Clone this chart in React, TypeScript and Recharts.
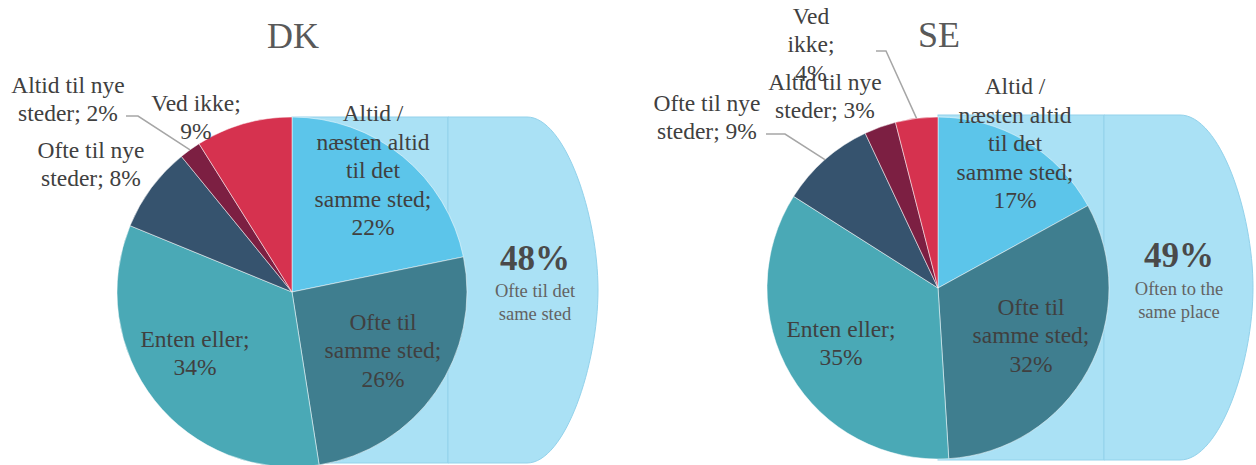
import { PieChart, Pie, Cell } from 'recharts';

// Answer categories, clockwise from 12 o'clock.
const CATEGORIES = [
  'Altid / næsten altid til det samme sted',
  'Ofte til samme sted',
  'Enten eller',
  'Ofte til nye steder',
  'Altid til nye steder',
  'Ved ikke',
];
const DK_VALUES = [22, 26, 34, 8, 2, 9];
const SE_VALUES = [17, 32, 35, 9, 3, 4];

// Label wrapping as in the picture, "|" is a line break, {v} the value.
const DK_WRAP = [
  'Altid /|næsten altid|til det|samme sted;|{v}%',
  'Ofte til|samme sted;|{v}%',
  'Enten eller;|{v}%',
  'Ofte til nye|steder; {v}%',
  'Altid til nye|steder; {v}%',
  'Ved ikke;|{v}%',
];
const SE_WRAP = [
  'Altid /|næsten altid|til det|samme sted;|{v}%',
  'Ofte til|samme sted;|{v}%',
  'Enten eller;|{v}%',
  'Ofte til nye|steder; {v}%',
  'Altid til nye|steder; {v}%',
  'Ved|ikke;|{v}%',
];
const DK_GROUP_TEXT = ['Ofte til det', 'same sted'];
const SE_GROUP_TEXT = ['Often to the', 'same place'];

const COLORS = ['#5CC5EA', '#3F7E8F', '#4AA9B6', '#36536E', '#7C1F42', '#D6324F'];
const FONT = '"Liberation Serif", "Times New Roman", serif';
const LINE_H = 28.5;

type LabelPos = { dx: number; dy: number; line?: [number, number, number, number] };

// block centre offsets from the pie centre; line = start x,y and elbow x,y
const DK_LAYOUT: LabelPos[] = [
  { dx: 81, dy: -122 },
  { dx: 91, dy: 58 },
  { dx: -97, dy: 61 },
  { dx: -201, dy: -128 },
  { dx: -224, dy: -193, line: [-166, -176, -154, -176] },
  { dx: -96, dy: -175 },
];
const SE_LAYOUT: LabelPos[] = [
  { dx: 77, dy: -145 },
  { dx: 93, dy: 47 },
  { dx: -97, dy: 55 },
  { dx: -231, dy: -171, line: [-172, -154, -153, -154] },
  { dx: -113, dy: -192 },
  { dx: -127, dy: -244, line: [-62, -237, -52, -237] },
];

function makeLabel(wraps: string[], layout: LabelPos[]) {
  return (props: any) => {
    const { cx, cy, midAngle, outerRadius, index, value } = props;
    const pos = layout[index];
    const lines = wraps[index].replace('{v}', String(value)).split('|');
    const bx = cx + pos.dx;
    const y0 = cy + pos.dy - ((lines.length - 1) * LINE_H) / 2;
    let leader = null;
    if (pos.line) {
      const rad = (-midAngle * Math.PI) / 180;
      const ex = cx + outerRadius * Math.cos(rad);
      const ey = cy + outerRadius * Math.sin(rad);
      const pts = `${cx + pos.line[0]},${cy + pos.line[1]} ${cx + pos.line[2]},${cy + pos.line[3]} ${ex},${ey}`;
      leader = <polyline points={pts} fill="none" stroke="#A6A6A6" strokeWidth={1.5} />;
    }
    return (
      <g key={`lbl-${index}`}>
        {leader}
        <text
          x={bx}
          textAnchor="middle"
          style={{ fontFamily: FONT, fontSize: 23.5, fill: '#404040', fontWeight: 'normal' }}
        >
          {lines.map((l, i) => (
            <tspan key={i} x={bx} y={y0 + i * LINE_H} dominantBaseline="central">
              {l}
            </tspan>
          ))}
        </text>
      </g>
    );
  };
}

const toData = (values: number[]) => values.map((v, i) => ({ name: CATEGORIES[i], value: v }));

function GroupBox({ left, split, right, top, bottom, corner, cx, pct, text }: any) {
  const mid = (top + bottom) / 2;
  const k = right - 33;
  return (
    <g>
      <rect x={left} y={top} width={split - left} height={bottom - top} fill="#AAE1F5" stroke="#93D2EB" strokeWidth={1} />
      <path
        d={`M${split},${top} H${corner} C${k},${top} ${right},${mid - 75} ${right},${mid} C${right},${mid + 75} ${k},${bottom} ${corner},${bottom} H${split} Z`}
        fill="#AAE1F5"
        stroke="#93D2EB"
        strokeWidth={1}
      />
      <text
        x={cx}
        y={mid - 32}
        textAnchor="middle"
        dominantBaseline="central"
        fontFamily={FONT}
        fontSize={35}
        fontWeight="bold"
        fill="#4A4A4A"
      >
        {pct}%
      </text>
      {text.map((t: string, i: number) => (
        <text key={i} x={cx} y={mid + 1 + i * 23} textAnchor="middle" dominantBaseline="central" fontFamily={FONT} fontSize={18.5} fill="#636363">
          {t}
        </text>
      ))}
    </g>
  );
}

export default function App() {
  const dkGroup = DK_VALUES[0] + DK_VALUES[1];
  const seGroup = SE_VALUES[0] + SE_VALUES[1];
  return (
    <div style={{ position: 'absolute', left: 0, top: 0, width: 1256, height: 465, background: '#fff' }}>
      <svg width={1256} height={465} style={{ position: 'absolute', left: 0, top: 0 }}>
        <GroupBox left={292} split={448} right={598} top={117} bottom={463} corner={527} cx={535} pct={dkGroup} text={DK_GROUP_TEXT} />
        <GroupBox left={938} split={1104} right={1253} top={115} bottom={460} corner={1180} cx={1179} pct={seGroup} text={SE_GROUP_TEXT} />
        <text x={293} y={36} textAnchor="middle" dominantBaseline="central" fontFamily={FONT} fontSize={36} fill="#595959">
          DK
        </text>
        <text x={939} y={35} textAnchor="middle" dominantBaseline="central" fontFamily={FONT} fontSize={36} fill="#595959">
          SE
        </text>
      </svg>
      <div style={{ position: 'absolute', left: 0, top: 0, fontFamily: FONT }}>
        <PieChart width={1256} height={465} margin={{ top: 0, right: 0, bottom: 0, left: 0 }}>
          <Pie
            data={toData(DK_VALUES)}
            dataKey="value"
            nameKey="name"
            cx={292}
            cy={292}
            outerRadius={175}
            startAngle={90}
            endAngle={-270}
            stroke="#ffffff"
            strokeWidth={0.5}
            label={makeLabel(DK_WRAP, DK_LAYOUT)}
            labelLine={false}
            isAnimationActive={false}
          >
            {DK_VALUES.map((_, i) => (
              <Cell key={i} fill={COLORS[i]} />
            ))}
          </Pie>
          <Pie
            data={toData(SE_VALUES)}
            dataKey="value"
            nameKey="name"
            cx={938}
            cy={288}
            outerRadius={171}
            startAngle={90}
            endAngle={-270}
            stroke="#ffffff"
            strokeWidth={0.5}
            label={makeLabel(SE_WRAP, SE_LAYOUT)}
            labelLine={false}
            isAnimationActive={false}
          >
            {SE_VALUES.map((_, i) => (
              <Cell key={i} fill={COLORS[i]} />
            ))}
          </Pie>
        </PieChart>
      </div>
    </div>
  );
}
